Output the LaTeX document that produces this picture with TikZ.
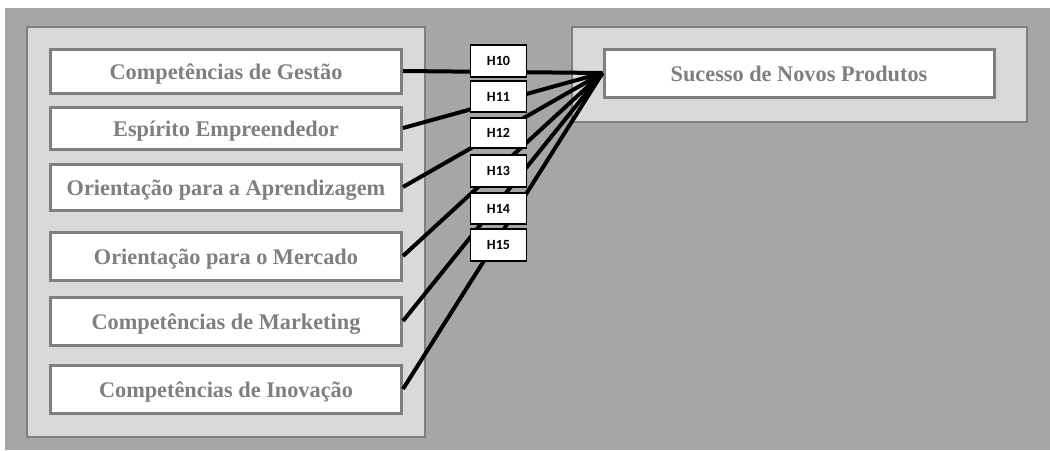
\documentclass[tikz,border=0pt]{standalone}
\usepackage{fontspec}
\setmainfont{Liberation Serif}
\newfontfamily\hfont{Carlito}
\definecolor{bggray}{HTML}{A6A6A6}
\definecolor{panelgray}{HTML}{D9D9D9}
\definecolor{bordgray}{HTML}{7F7F7F}
\definecolor{txtgray}{HTML}{7F7F7F}
\tikzset{
  panel/.style={draw=bordgray, fill=panelgray, line width=2.5pt},
  varbox/.style={draw=bordgray, fill=white, line width=3pt, minimum width=351pt, inner sep=0pt,
    text height=16pt, text depth=0pt,
    text=txtgray, font=\fontsize{22.3}{25}\selectfont\bfseries},
  hbox/.style={draw=black, fill=white, line width=1.5pt, minimum width=56pt, minimum height=30pt, inner sep=0pt,
    font=\hfont\fontsize{14}{16}\selectfont\bfseries},
  conn/.style={draw=black, line width=4pt},
}
\begin{document}
\begin{tikzpicture}[x=1pt,y=-1pt]
\useasboundingbox (0,0) rectangle (1050,450);
\fill[white] (0,0) rectangle (1050,450);
\fill[bggray] (5,8) rectangle (1050,450);
\draw[panel] (27,27) rectangle (425,437);
\draw[panel] (572,27) rectangle (1027,122);
\node[varbox, minimum height=44pt] (a1) at (226,71) {Competências de Gestão};
\node[varbox, minimum height=42pt] (a2) at (226,128) {Espírito Empreendedor};
\node[varbox, minimum height=46pt] (a3) at (226,187) {Orientação para a Aprendizagem};
\node[varbox, minimum height=48pt] (a4) at (226,256) {Orientação para o Mercado};
\node[varbox, minimum height=48pt] (a5) at (226,321) {Competências de Marketing};
\node[varbox, minimum height=48pt] (a6) at (226,389) {Competências de Inovação};
\node[varbox, minimum width=390pt, minimum height=48pt] (t) at (799,73) {Sucesso de Novos Produtos};
\foreach \i in {1,...,6} {\draw[conn] (a\i.east) -- (t.west);}
\node[hbox, minimum height=32pt] (h10) at (498.5,61) {H10};
\node[hbox, minimum height=31pt] (h11) at (498.5,96.5) {H11};
\node[hbox, minimum height=30pt] (h12) at (498.5,133) {H12};
\node[hbox, minimum height=32pt] (h13) at (498.5,171) {H13};
\node[hbox, minimum height=31pt] (h14) at (498.5,208.5) {H14};
\node[hbox, minimum height=32pt] (h15) at (498.5,245) {H15};
\end{tikzpicture}
\end{document}
